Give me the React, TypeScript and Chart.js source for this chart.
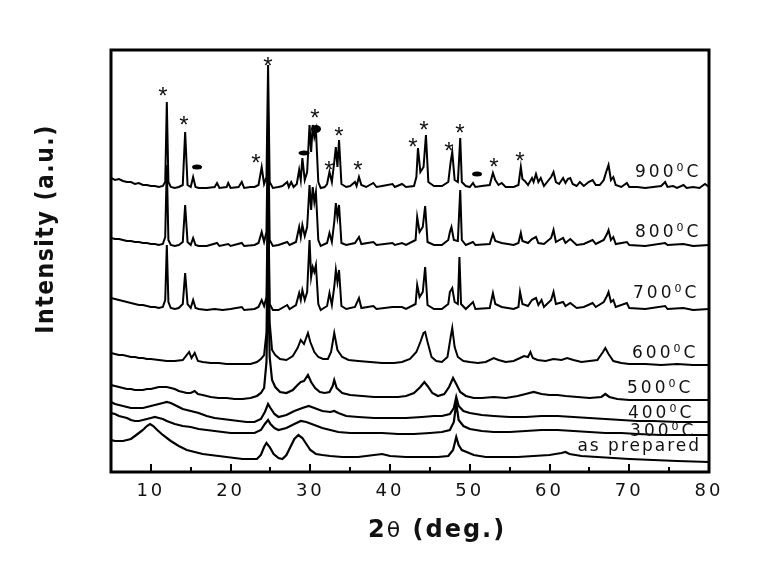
import React, { useEffect, useRef } from "react";
import { Chart, registerables } from "chart.js";

Chart.register(...registerables);

type P = [number, number];

// ---- data: 2θ (deg.) vs intensity (a.u., offset stacked) ----
const curve900: P[] = [
  [5.0, 294], [5.5, 292], [6.0, 293], [6.5, 291], [7.0, 290], [7.5, 290], [8.0, 288], [8.5, 289], [9.0, 287], [9.5, 287],
  [10.0, 286], [10.5, 286], [11.0, 285], [11.5, 286], [11.8, 290], [12.0, 370], [12.2, 290], [12.5, 285], [13.0, 284], [13.5, 285],
  [14.0, 287], [14.3, 340], [14.6, 287], [15.0, 285], [15.3, 295], [15.6, 285], [16.0, 284], [17.0, 284], [18.0, 285], [18.3, 289],
  [18.6, 284], [19.5, 285], [19.7, 289], [20.0, 284], [21.0, 285], [21.4, 290], [21.7, 284], [22.5, 285], [23.0, 285], [23.5, 287],
  [23.9, 305], [24.2, 288], [24.5, 295], [24.7, 407], [24.9, 290], [25.3, 284], [26.0, 285], [26.5, 286], [27.1, 290], [27.3, 285],
  [27.6, 290], [27.9, 285], [28.3, 288], [28.6, 302], [28.8, 292], [29.0, 314], [29.3, 292], [29.6, 300], [29.9, 347], [30.1, 320],
  [30.3, 347], [30.5, 335], [30.7, 342], [31.0, 290], [31.3, 284], [31.8, 285], [32.1, 288], [32.4, 300], [32.7, 290], [33.0, 310],
  [33.2, 325], [33.4, 305], [33.6, 332], [33.9, 288], [34.5, 285], [35.0, 286], [35.6, 290], [35.8, 286], [36.1, 295], [36.4, 287],
  [37.0, 285], [37.9, 289], [38.3, 285], [39.0, 286], [40.3, 288], [40.6, 285], [41.5, 288], [42.0, 285], [43.0, 286], [43.3, 295],
  [43.5, 324], [43.8, 300], [44.2, 305], [44.5, 337], [44.8, 290], [45.5, 286], [46.5, 286], [47.3, 290], [47.6, 310], [47.8, 320],
  [48.1, 292], [48.5, 290], [48.8, 334], [49.0, 290], [49.5, 286], [50.0, 285], [50.4, 289], [50.7, 285], [51.5, 286], [52.5, 287],
  [52.9, 299], [53.2, 292], [53.6, 287], [54.0, 289], [54.5, 285], [55.5, 285], [56.1, 287], [56.4, 305], [56.6, 293], [56.9, 291],
  [57.3, 287], [57.8, 294], [58.0, 290], [58.3, 298], [58.6, 290], [58.9, 294], [59.3, 286], [59.8, 291], [60.2, 295], [60.5, 300],
  [60.8, 290], [61.2, 288], [61.7, 294], [62.0, 289], [62.3, 293], [62.6, 294], [62.9, 288], [63.4, 286], [63.8, 290], [64.3, 286],
  [64.9, 290], [65.4, 292], [65.8, 287], [66.3, 287], [66.8, 292], [67.1, 300], [67.4, 307], [67.7, 292], [68.0, 295], [68.3, 287],
  [69.0, 285], [69.7, 289], [70.0, 285], [71.0, 285], [72.0, 284], [73.0, 285], [74.0, 286], [74.5, 290], [74.8, 285], [75.5, 286],
  [76.0, 284], [76.8, 287], [77.2, 284], [78.0, 285], [78.8, 284], [79.5, 288], [80.0, 285],
];

const curve800: P[] = [
  [5.0, 234], [5.5, 233], [6.0, 233], [6.5, 232], [7.0, 231], [7.5, 231], [8.0, 230], [8.5, 230], [9.0, 229], [9.5, 229],
  [10.0, 228], [10.5, 228], [11.0, 227], [11.5, 228], [11.8, 235], [12.0, 307], [12.2, 232], [12.5, 227], [13.0, 226], [13.5, 227],
  [14.0, 230], [14.3, 267], [14.6, 230], [15.0, 227], [15.3, 234], [15.6, 227], [16.0, 226], [17.0, 226], [18.3, 229], [18.6, 226],
  [19.7, 228], [20.0, 226], [21.4, 229], [21.7, 226], [23.0, 227], [23.5, 229], [23.9, 240], [24.2, 230], [24.5, 240], [24.7, 360],
  [24.9, 232], [25.3, 226], [26.0, 227], [27.1, 230], [27.4, 227], [28.2, 230], [28.6, 245], [28.8, 235], [29.0, 247], [29.3, 236],
  [29.6, 245], [29.9, 287], [30.1, 262], [30.3, 285], [30.5, 270], [30.7, 280], [31.0, 232], [31.3, 226], [32.1, 229], [32.4, 239],
  [32.7, 230], [33.0, 250], [33.2, 269], [33.4, 255], [33.6, 267], [33.9, 229], [34.5, 227], [35.6, 229], [36.1, 235], [36.4, 228],
  [37.9, 230], [38.3, 227], [40.3, 229], [40.6, 227], [41.5, 229], [42.0, 227], [43.2, 232], [43.4, 255], [43.7, 240], [44.1, 245],
  [44.4, 266], [44.7, 230], [45.5, 227], [46.5, 227], [47.3, 232], [47.5, 240], [47.7, 245], [48.0, 232], [48.5, 231], [48.8, 282],
  [49.0, 232], [49.5, 227], [50.4, 230], [50.7, 227], [52.5, 228], [52.9, 238], [53.2, 231], [54.0, 229], [55.5, 227], [56.1, 229],
  [56.4, 239], [56.6, 231], [57.3, 229], [57.8, 233], [58.3, 235], [58.6, 229], [59.3, 228], [60.2, 234], [60.5, 242], [60.8, 230],
  [61.7, 234], [62.0, 229], [62.6, 233], [63.4, 227], [64.3, 228], [65.4, 232], [65.8, 228], [66.8, 232], [67.2, 238], [67.4, 242],
  [67.7, 232], [68.0, 235], [68.3, 228], [69.7, 230], [70.0, 227], [72.0, 226], [74.5, 229], [74.8, 227], [76.8, 228], [78.0, 226],
  [80.0, 227],
];

const curve700: P[] = [
  [5.0, 174], [5.5, 173], [6.0, 172], [6.5, 171], [7.0, 170], [7.5, 169], [8.0, 168], [8.5, 167], [9.0, 167], [9.5, 166],
  [10.0, 165], [10.5, 165], [11.0, 164], [11.5, 165], [11.8, 172], [12.0, 227], [12.2, 170], [12.5, 164], [13.0, 163], [13.5, 164],
  [14.0, 168], [14.3, 199], [14.6, 168], [15.0, 164], [15.3, 172], [15.6, 164], [16.0, 163], [17.0, 162], [18.0, 163], [19.0, 162],
  [20.0, 163], [21.4, 165], [21.7, 162], [23.0, 163], [23.5, 165], [23.9, 172], [24.2, 166], [24.5, 175], [24.7, 297], [24.9, 168],
  [25.3, 162], [26.0, 162], [27.1, 167], [27.4, 163], [28.2, 167], [28.6, 179], [28.8, 172], [29.0, 182], [29.3, 172], [29.6, 180],
  [29.9, 232], [30.1, 195], [30.3, 205], [30.5, 200], [30.7, 207], [31.0, 168], [31.3, 162], [32.1, 166], [32.4, 179], [32.7, 167],
  [33.0, 185], [33.2, 202], [33.4, 190], [33.6, 202], [33.9, 166], [34.5, 163], [35.6, 165], [36.1, 174], [36.4, 164], [37.9, 166],
  [38.3, 163], [40.3, 165], [41.5, 165], [42.0, 163], [43.2, 168], [43.4, 187], [43.7, 175], [44.1, 180], [44.4, 205], [44.7, 167],
  [45.5, 163], [46.5, 163], [47.3, 168], [47.5, 180], [47.8, 184], [48.1, 170], [48.5, 168], [48.7, 215], [48.9, 168], [49.5, 163],
  [50.4, 170], [50.7, 163], [52.5, 164], [52.9, 179], [53.2, 168], [54.0, 165], [55.5, 163], [56.1, 165], [56.3, 180], [56.6, 168],
  [57.3, 166], [57.8, 172], [58.3, 174], [58.6, 167], [59.0, 172], [59.3, 165], [60.2, 172], [60.5, 180], [60.8, 168], [61.7, 170],
  [62.0, 166], [62.6, 169], [63.4, 164], [64.3, 165], [65.4, 169], [65.8, 165], [66.8, 170], [67.2, 176], [67.4, 180], [67.7, 170],
  [68.0, 172], [68.3, 165], [69.7, 169], [70.0, 164], [72.0, 163], [74.5, 166], [74.8, 163], [76.8, 164], [78.0, 162], [80.0, 163],
];

const curve600: P[] = [
  [5.0, 119], [5.5, 118], [6.0, 117], [6.5, 117], [7.0, 116], [7.5, 115], [8.0, 115], [8.5, 114], [9.0, 114], [9.5, 113],
  [10.0, 113], [11.0, 112], [12.0, 111], [13.0, 111], [14.0, 112], [14.8, 120], [15.1, 114], [15.5, 119], [15.9, 111], [16.5, 110],
  [17.5, 109], [18.5, 109], [19.5, 108], [20.5, 108], [21.5, 108], [22.5, 108], [23.3, 110], [23.8, 113], [24.2, 117], [24.5, 140],
  [24.7, 280], [24.9, 150], [25.2, 122], [25.6, 117], [26.2, 113], [27.0, 112], [27.8, 116], [28.4, 124], [28.8, 132], [29.2, 128],
  [29.7, 139], [30.0, 130], [30.5, 120], [31.0, 115], [31.6, 113], [32.2, 113], [32.6, 120], [33.0, 139], [33.4, 122], [34.0, 115],
  [34.8, 112], [36.0, 111], [37.5, 110], [39.0, 109], [40.5, 109], [41.5, 110], [42.5, 113], [43.3, 120], [43.8, 130], [44.2, 139],
  [44.4, 140], [44.7, 130], [45.2, 115], [45.8, 111], [46.5, 110], [47.2, 115], [47.6, 135], [47.8, 144], [48.1, 125], [48.5, 115],
  [49.2, 111], [50.0, 110], [51.0, 109], [52.0, 110], [53.0, 114], [53.6, 112], [54.5, 110], [55.5, 111], [56.3, 114], [56.8, 116],
  [57.3, 115], [57.6, 120], [57.9, 114], [58.5, 112], [59.5, 111], [60.5, 113], [61.5, 112], [62.2, 114], [63.0, 112], [64.0, 110],
  [65.0, 111], [66.0, 112], [66.7, 120], [67.0, 124], [67.4, 118], [68.0, 111], [69.0, 109], [70.0, 108], [72.0, 108], [74.0, 107],
  [76.0, 108], [78.0, 107], [80.0, 107],
];

const curve500: P[] = [
  [5.0, 87], [5.5, 86], [6.0, 85], [6.5, 84], [7.0, 83], [7.5, 83], [8.0, 82], [8.5, 82], [9.0, 82], [9.5, 83],
  [10.0, 83], [10.5, 84], [11.0, 85], [11.5, 85], [12.0, 85], [12.5, 84], [13.0, 83], [13.5, 81], [14.0, 80], [14.5, 79],
  [15.0, 79], [15.5, 81], [15.9, 78], [16.5, 77], [17.5, 75], [18.5, 74], [19.5, 74], [20.5, 73], [21.5, 73], [22.5, 74],
  [23.3, 76], [23.8, 79], [24.2, 84], [24.5, 110], [24.7, 200], [24.9, 115], [25.2, 92], [25.6, 85], [26.2, 80], [27.0, 79],
  [27.8, 82], [28.4, 87], [28.8, 90], [29.2, 91], [29.7, 97], [30.1, 90], [30.6, 84], [31.2, 80], [31.8, 79], [32.4, 80],
  [32.8, 86], [33.0, 92], [33.3, 84], [34.0, 79], [35.0, 77], [36.5, 76], [38.0, 75], [39.5, 75], [41.0, 75], [42.0, 76],
  [43.0, 79], [43.8, 85], [44.3, 90], [44.7, 86], [45.3, 79], [46.0, 76], [46.8, 78], [47.4, 85], [47.9, 94], [48.3, 88],
  [48.8, 80], [49.5, 76], [50.5, 74], [51.5, 74], [53.0, 75], [54.5, 74], [56.0, 76], [57.0, 78], [58.0, 80], [59.0, 78],
  [60.0, 77], [61.0, 77], [62.0, 76], [63.5, 75], [65.0, 74], [66.5, 75], [67.0, 78], [67.5, 75], [68.5, 73], [70.0, 72],
  [72.0, 72], [74.0, 72], [76.0, 72], [78.0, 72], [80.0, 72],
];

const curve400: P[] = [
  [5.0, 70], [5.5, 68], [6.0, 67], [6.5, 66], [7.0, 65], [7.5, 64], [8.0, 64], [8.5, 64], [9.0, 64], [9.5, 65],
  [10.0, 66], [10.5, 67], [11.0, 68], [11.5, 69], [12.0, 70], [12.5, 69], [13.0, 67], [13.5, 65], [14.0, 63], [15.0, 61],
  [16.0, 59], [17.0, 56], [18.0, 54], [19.0, 53], [20.0, 52], [21.0, 51], [22.0, 50], [23.0, 50], [23.8, 53], [24.3, 60],
  [24.7, 68], [25.0, 64], [25.5, 58], [26.0, 55], [27.0, 57], [28.0, 61], [29.0, 64], [29.8, 66], [30.5, 64], [31.5, 61],
  [32.5, 60], [33.0, 61], [33.5, 59], [34.5, 56], [36.0, 55], [38.0, 54], [40.0, 54], [42.0, 54], [44.0, 55], [45.5, 56],
  [46.5, 56], [47.5, 58], [48.0, 64], [48.3, 75], [48.6, 66], [49.2, 61], [50.0, 59], [51.5, 57], [53.0, 56], [55.0, 55],
  [57.0, 55], [59.0, 56], [61.0, 56], [63.0, 55], [65.0, 54], [67.0, 53], [69.0, 52], [71.0, 51], [73.0, 51], [76.0, 50],
  [80.0, 50],
];

const curve300: P[] = [
  [5.0, 59], [5.5, 58], [6.0, 56], [6.5, 55], [7.0, 54], [7.5, 52], [8.0, 51], [8.5, 51], [9.0, 52], [9.5, 53],
  [10.0, 54], [10.5, 55], [11.0, 54], [11.5, 53], [12.0, 51], [13.0, 48], [14.0, 46], [15.0, 45], [16.0, 43], [17.0, 42],
  [18.0, 41], [19.0, 40], [20.0, 39], [21.0, 39], [22.0, 39], [23.0, 39], [23.8, 42], [24.3, 48], [24.7, 52], [25.0, 48],
  [25.5, 44], [26.0, 42], [27.0, 44], [28.0, 48], [28.8, 51], [29.5, 50], [30.5, 47], [31.5, 44], [32.5, 42], [33.5, 40],
  [35.0, 39], [37.0, 39], [39.0, 39], [41.0, 38], [43.0, 38], [45.0, 39], [46.5, 40], [47.5, 42], [48.0, 50], [48.3, 69],
  [48.6, 52], [49.2, 46], [50.0, 43], [51.5, 41], [53.0, 40], [55.0, 40], [57.0, 41], [59.0, 42], [61.0, 42], [63.0, 41],
  [65.0, 40], [67.0, 39], [69.0, 39], [71.0, 38], [74.0, 37], [77.0, 37], [80.0, 37],
];

const curveAsPrepared: P[] = [
  [5.0, 32], [5.5, 31], [6.0, 31], [6.5, 31], [7.0, 32], [7.5, 33], [8.0, 36], [8.5, 39], [9.0, 42], [9.5, 46],
  [9.9, 48], [10.3, 46], [10.8, 42], [11.5, 37], [12.5, 31], [13.5, 26], [14.5, 22], [15.5, 20], [16.5, 18], [17.5, 17],
  [18.5, 16], [19.5, 15], [20.5, 14], [21.5, 13], [22.5, 13], [23.3, 13], [23.8, 17], [24.2, 25], [24.5, 29], [24.9, 25],
  [25.4, 18], [26.0, 14], [26.5, 13], [27.0, 17], [27.5, 25], [28.0, 33], [28.5, 37], [29.0, 34], [29.5, 28], [30.0, 22],
  [30.7, 18], [31.5, 17], [32.5, 16], [34.0, 15], [36.0, 15], [38.0, 17], [39.0, 18], [40.0, 16], [42.0, 15], [44.0, 15],
  [46.0, 15], [47.3, 16], [47.9, 22], [48.3, 35], [48.6, 27], [49.0, 22], [49.6, 20], [50.5, 17], [52.0, 15], [54.0, 15],
  [56.0, 15], [58.0, 16], [60.0, 17], [61.5, 19], [62.0, 20], [62.5, 18], [64.0, 16], [66.0, 15], [68.0, 14], [70.0, 13],
  [73.0, 12], [76.0, 11], [80.0, 10],
];

const seriesCurves: P[][] = [curve900, curve800, curve700, curve600, curve500, curve400, curve300, curveAsPrepared];
const seriesNames = ["900", "800", "700", "600", "500", "400", "300", "as prepared"];
// label anchors (2θ, intensity) for the temperature labels
const seriesLabelAnchors: P[] = [
  [70.72, 295], [70.72, 235], [70.47, 174], [70.35, 114], [69.72, 79], [69.84, 54], [70.10, 36], [63.5, 21],
];

// phase markers on the 900 °C pattern
const asteriskMarks: P[] = [
  [11.52, 381], [14.16, 352], [23.19, 314], [24.69, 411], [30.59, 359], [32.34, 307], [33.60, 341],
  [35.98, 307], [42.88, 330], [44.26, 347], [47.39, 326], [48.77, 344], [53.04, 310], [56.30, 316],
];
const dotMarks: P[] = [[15.79, 305], [29.21, 319], [30.71, 343], [50.91, 298]];

const xMin = 5;
const xMax = 80;
const xTickValues = [10, 20, 30, 40, 50, 60, 70, 80];
const xTitle = ["2", "θ", " (deg.)"];
const yTitle = "Intensity (a.u.)";

const dotSizes: P[] = [[10, 5], [11, 5], [10, 8], [10, 5]];

const decorPlugin = {
  id: "decor",
  beforeDraw(chart: any) {
    chart.ctx.letterSpacing = "3px";
  },
  afterDraw(chart: any) {
    const { ctx, chartArea: a } = chart;
    const xs = chart.scales.x;
    const ys = chart.scales.y;
    ctx.save();
    ctx.letterSpacing = "0px";
    // frame
    ctx.strokeStyle = "#000";
    ctx.lineWidth = 3;
    ctx.strokeRect(a.left, a.top, a.right - a.left, a.bottom - a.top);
    // inward ticks on the bottom axis
    ctx.lineWidth = 2;
    for (const t of xs.ticks) {
      const v = t.value;
      if (v <= xMin || v >= xMax) continue;
      const px = Math.round(xs.getPixelForValue(v));
      const len = xTickValues.includes(v) ? 8 : 5;
      ctx.beginPath();
      ctx.moveTo(px, a.bottom);
      ctx.lineTo(px, a.bottom - len);
      ctx.stroke();
    }
    ctx.fillStyle = "#111";
    // asterisks
    ctx.font = '24px "Liberation Sans", Arial, sans-serif';
    ctx.textAlign = "center";
    ctx.textBaseline = "alphabetic";
    for (const [x, y] of asteriskMarks) {
      ctx.fillText("*", xs.getPixelForValue(x), ys.getPixelForValue(y) + 12.8);
    }
    // filled ellipses
    ctx.fillStyle = "#000";
    dotMarks.forEach(([x, y], i) => {
      const [w, h] = dotSizes[i];
      ctx.beginPath();
      ctx.ellipse(xs.getPixelForValue(x), ys.getPixelForValue(y), w / 2, h / 2, 0, 0, Math.PI * 2);
      ctx.fill();
    });
    // series labels
    ctx.fillStyle = "#111";
    ctx.textAlign = "left";
    seriesNames.forEach((name, i) => {
      const [ax, ay] = seriesLabelAnchors[i];
      const x0 = xs.getPixelForValue(ax);
      const base = ys.getPixelForValue(ay);
      ctx.font = '17px "DejaVu Sans", sans-serif';
      if (name === "as prepared") {
        ctx.letterSpacing = "2px";
        ctx.fillText(name, x0, base);
        return;
      }
      ctx.letterSpacing = "3px";
      ctx.fillText(name, x0, base);
      let w = ctx.measureText(name).width;
      ctx.font = '11px "DejaVu Sans", sans-serif';
      ctx.fillText("0", x0 + w, base - 6);
      w += ctx.measureText("0").width;
      ctx.font = '17px "DejaVu Sans", sans-serif';
      ctx.fillText("C", x0 + w, base);
    });
    // x title
    ctx.letterSpacing = "2px";
    let tx = 368;
    const tyBase = 537;
    ctx.font = 'bold 24px "DejaVu Sans", sans-serif';
    ctx.fillText(xTitle[0], tx, tyBase);
    tx += ctx.measureText(xTitle[0]).width;
    ctx.font = '22px "DejaVu Sans", sans-serif';
    ctx.fillText(xTitle[1], tx, tyBase);
    tx += ctx.measureText(xTitle[1]).width;
    ctx.font = 'bold 24px "DejaVu Sans", sans-serif';
    ctx.fillText(xTitle[2], tx, tyBase);
    // y title
    ctx.save();
    ctx.translate(53, 229);
    ctx.scale(1.15, 1);
    ctx.rotate(-Math.PI / 2);
    ctx.letterSpacing = "1.5px";
    ctx.textAlign = "center";
    ctx.font = 'bold 22px "DejaVu Sans", sans-serif';
    ctx.fillText(yTitle, 0, 0);
    ctx.restore();
    ctx.restore();
    ctx.letterSpacing = "0px";
  },
};

export default function App() {
  const ref = useRef<HTMLCanvasElement | null>(null);
  useEffect(() => {
    if (!ref.current) return;
    const chart = new Chart(ref.current, {
      type: "line",
      data: {
        datasets: seriesCurves.map((c, i) => ({
          label: seriesNames[i],
          data: c.map(([x, y]) => ({ x, y })),
          borderColor: "#000",
          borderWidth: i >= 4 ? 2.2 : 2,
          pointRadius: 0,
          tension: 0,
          fill: false,
        })),
      },
      options: {
        animation: false,
        responsive: false,
        devicePixelRatio: 1,
        layout: { padding: { left: 111, right: 60, top: 50, bottom: 0 } },
        plugins: { legend: { display: false }, tooltip: { enabled: false } },
        scales: {
          x: {
            type: "linear",
            min: xMin,
            max: xMax,
            grid: { display: false, drawTicks: false },
            border: { display: false },
            ticks: {
              stepSize: 5,
              autoSkip: false,
              maxRotation: 0,
              padding: 9,
              color: "#111",
              font: { family: '"DejaVu Sans", sans-serif', size: 18 },
              callback: (v: any) => (xTickValues.includes(Number(v)) ? String(v) : ""),
            },
            afterFit: (s: any) => {
              s.height = 98;
            },
          },
          y: { display: false, min: 0, max: 422 },
        },
      },
      plugins: [decorPlugin],
    });
    return () => chart.destroy();
  }, []);
  return (
    <div style={{ position: "absolute", left: 0, top: 0, width: 769, height: 570, background: "#fff" }}>
      <canvas ref={ref} width={769} height={570} />
    </div>
  );
}
